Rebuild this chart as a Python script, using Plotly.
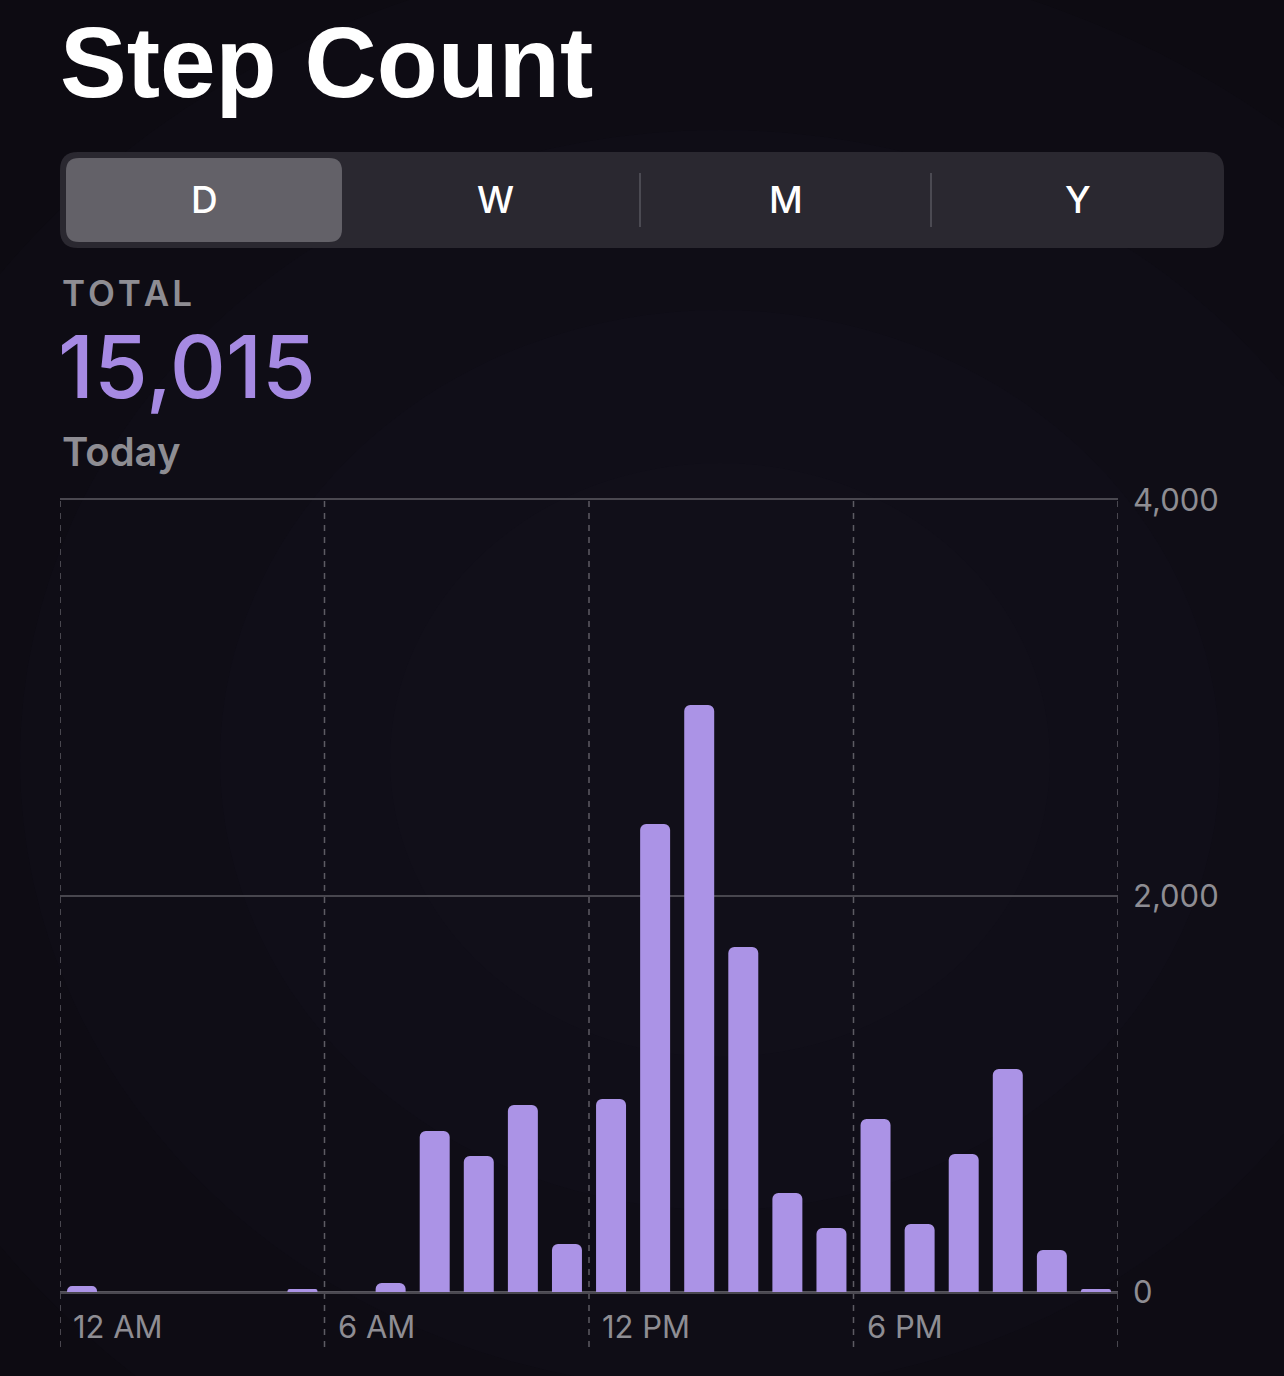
import plotly.graph_objects as go

# ---------------- data ----------------
hours = list(range(24))
steps = [30, 0, 0, 0, 0, 15, 0, 45, 813, 687, 944, 242, 975, 2364, 2965, 1742,
         500, 323, 874, 343, 697, 1126, 212, 15]
x_tick_hours = [0, 6, 12, 18]
x_tick_labels = ["12 AM", "6 AM", "12 PM", "6 PM"]
grid_hours = [0, 6, 12, 18, 24]
y_ticks = [0, 2000, 4000]
segments = ["D", "W", "M", "Y"]
title_text = "Step Count"
total_label = "TOTAL"
total_value = "15,015"
period_label = "Today"

# ---------------- geometry helpers ----------------
W_FIG, H_FIG = 1284, 1376
PL, PR, PT, PB = 60, 1118, 500, 1292
PW, PH = PR - PL, PB - PT


def px(x):
    return (x - PL) / PW


def py(y):
    return (PB - y) / PH


def rrect(x0, y0, x1, y1, r):
    pts = [
        ("M", (x0 + r, y0)), ("L", (x1 - r, y0)), ("Q", (x1, y0), (x1, y0 + r)),
        ("L", (x1, y1 - r)), ("Q", (x1, y1), (x1 - r, y1)), ("L", (x0 + r, y1)),
        ("Q", (x0, y1), (x0, y1 - r)), ("L", (x0, y0 + r)), ("Q", (x0, y0), (x0 + r, y0)),
    ]
    s = ""
    for p in pts:
        cmd = p[0]
        coords = " ".join(f"{px(a):.5f},{py(b):.5f}" for a, b in p[1:])
        s += f"{cmd} {coords} "
    return s + "Z"


GRAY = "#8e8d93"
BAR = "#ab93e6"
BG = "#0d0b12"

fig = go.Figure()
fig.add_trace(go.Bar(
    x=[h + 0.5 for h in hours], y=steps, width=0.68,
    marker=dict(color=BAR, line=dict(width=0)),
    hoverinfo="skip",
))

shapes = []
# background glow
for rad, op in [(900, 0.05), (700, 0.06), (500, 0.06), (330, 0.05)]:
    cx, cy = 720, 760
    shapes.append(dict(type="circle", xref="paper", yref="paper", layer="below",
                       x0=px(cx - rad), x1=px(cx + rad), y0=py(cy + rad * 0.9), y1=py(cy - rad * 0.9),
                       fillcolor=f"rgba(40,32,62,{op})", line=dict(width=0)))
# segmented control
shapes.append(dict(type="path", xref="paper", yref="paper", path=rrect(60, 152, 1224, 248, 18),
                   fillcolor="#2a2830", line=dict(width=0), layer="below"))
shapes.append(dict(type="path", xref="paper", yref="paper", path=rrect(66, 158, 342, 242, 13),
                   fillcolor="#636168", line=dict(width=0), layer="below"))
for sx in [640, 931]:
    shapes.append(dict(type="line", xref="paper", yref="paper", x0=px(sx), x1=px(sx),
                       y0=py(173), y1=py(227), line=dict(color="#4b4a52", width=2)))
# vertical dashed hour lines
for h in grid_hours:
    shapes.append(dict(type="line", xref="x", yref="paper", x0=h, x1=h, y0=py(1347), y1=1,
                       line=dict(color="#5d5b63", width=1.5, dash="6px,6px"), layer="below"))

HS = "\u200a"
annotations = [
    dict(text=f"<b>{title_text}</b>", xref="paper", yref="paper", x=px(58), y=py(62),
         xanchor="left", yanchor="middle", showarrow=False,
         font=dict(family="Liberation Sans", size=100, color="white")),
    dict(text=HS.join(total_label), xref="paper", yref="paper", x=px(60), y=py(293),
         xanchor="left", yanchor="middle", showarrow=False,
         font=dict(family="Inter", size=35, color=GRAY, weight=600)),
    dict(text=total_value, xref="paper", yref="paper", x=px(56), y=py(366),
         xanchor="left", yanchor="middle", showarrow=False,
         font=dict(family="Inter", size=87, color="#a68ae3", weight=500)),
    dict(text=period_label, xref="paper", yref="paper", x=px(60), y=py(451),
         xanchor="left", yanchor="middle", showarrow=False,
         font=dict(family="Inter", size=40, color=GRAY, weight=600)),
]
seg_centers = [204, 495, 786, 1078]
for lab, cx in zip(segments, seg_centers):
    annotations.append(dict(text=lab, xref="paper", yref="paper", x=px(cx), y=py(200),
                            xanchor="center", yanchor="middle", showarrow=False,
                            font=dict(family="Inter", size=37, color="white", weight=500)))
for h, lab in zip(x_tick_hours, x_tick_labels):
    annotations.append(dict(text=lab, xref="x", yref="paper", x=h, xshift=11, y=py(1326),
                            xanchor="left", yanchor="middle", showarrow=False,
                            font=dict(family="Inter", size=31, color=GRAY)))

fig.update_layout(
    width=W_FIG, height=H_FIG,
    margin=dict(l=PL, r=W_FIG - PR, t=PT, b=H_FIG - PB, autoexpand=False),
    paper_bgcolor=BG, plot_bgcolor="rgba(0,0,0,0)",
    showlegend=False, barcornerradius=6,
    shapes=shapes, annotations=annotations,
    xaxis=dict(range=[0, 24], showticklabels=False, showgrid=False, zeroline=False,
               showline=True, mirror=True, linecolor="#4a4850", linewidth=1.5, fixedrange=True),
    yaxis=dict(range=[0, 4000], side="right", tickvals=y_ticks, tickformat=",",
               showgrid=True, gridcolor="#48464e", gridwidth=1.5,
               zeroline=True, zerolinecolor="#57555d", zerolinewidth=2,
               ticks="", ticklabelstandoff=14, showline=False, automargin=False,
               tickfont=dict(family="Inter", size=31, color=GRAY), fixedrange=True),
)

fig.write_html(
    "out.html",
    config={"displayModeBar": False},
    post_script=f"document.body.style.margin='0';document.body.style.background='{BG}';"
                "document.documentElement.style.overflow='hidden';",
)
